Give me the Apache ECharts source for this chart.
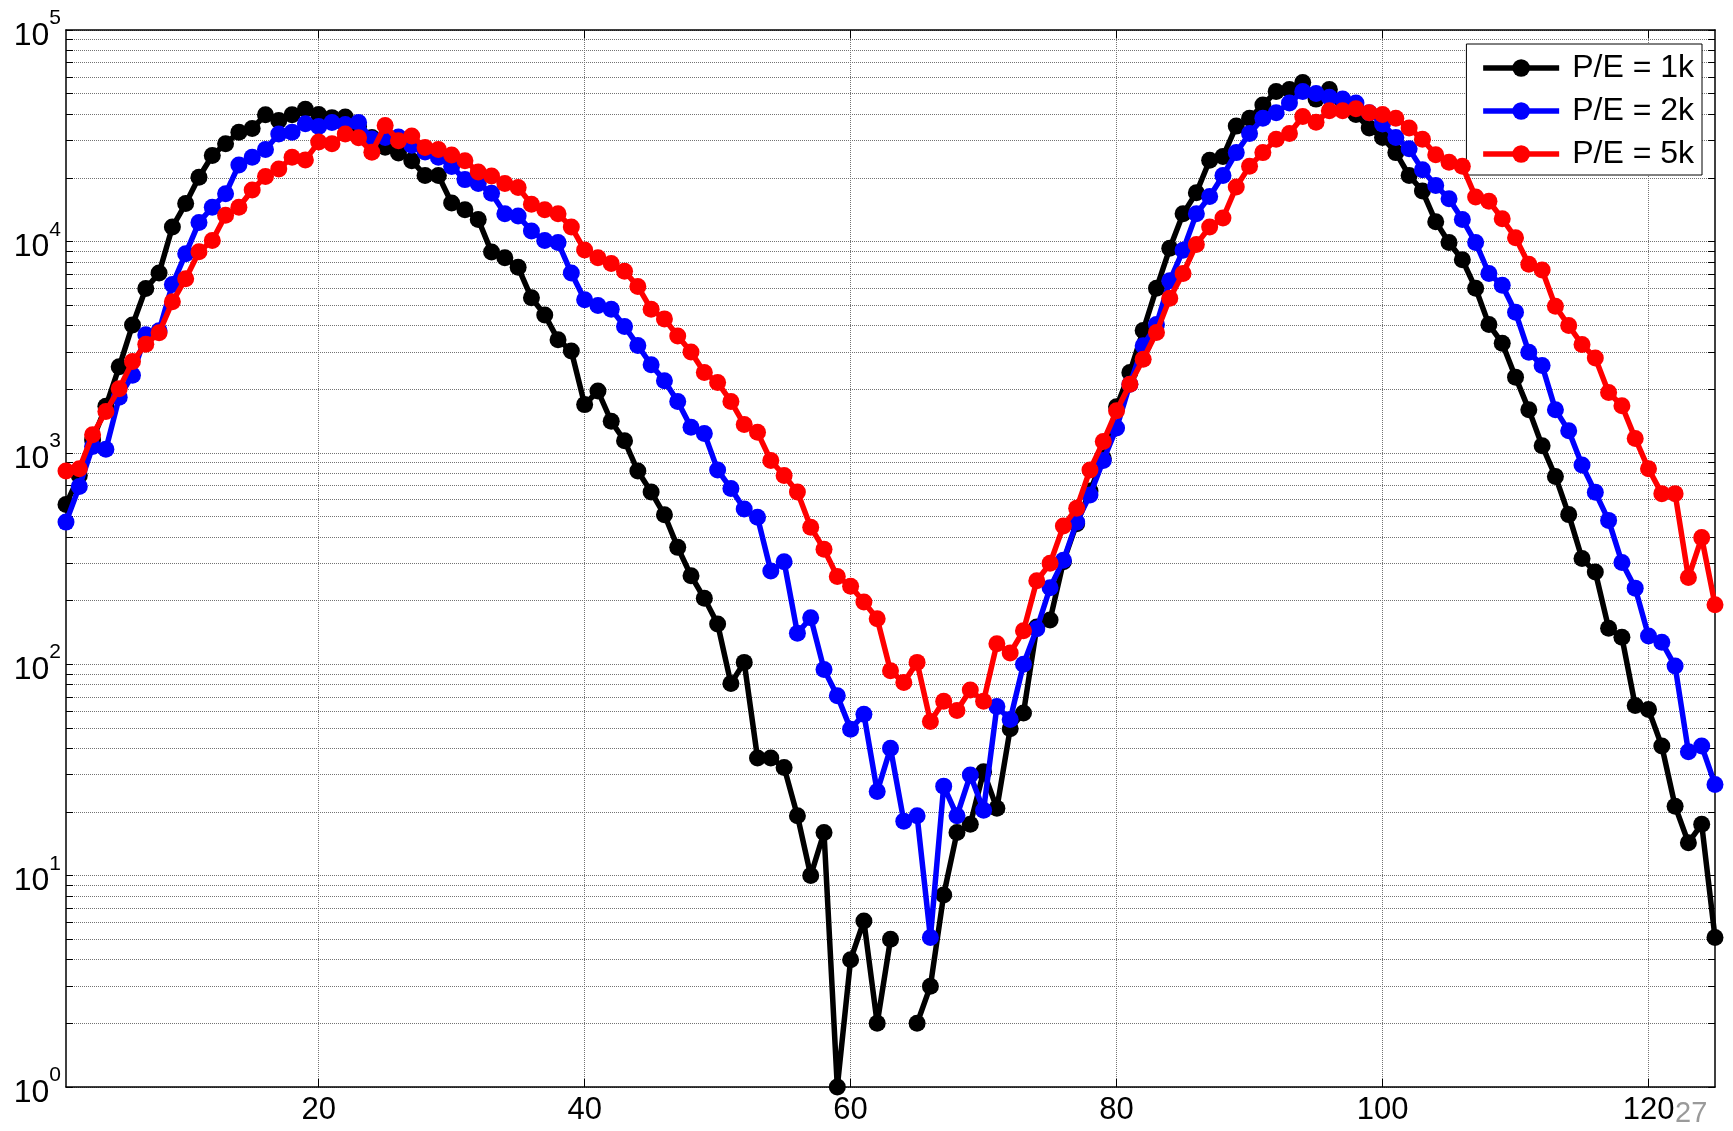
<!DOCTYPE html>
<html>
<head>
<meta charset="utf-8">
<script src="https://cdn.jsdelivr.net/npm/echarts@6/dist/echarts.min.js"></script>
<style>
  html, body { margin: 0; padding: 0; background: #fff; }
  #chart { width: 1733px; height: 1131px; }
</style>
</head>
<body>
<div id="chart"></div>
<script>
// x 轴：页序号 1..125
var pageIndex = [];
for (var i = 1; i <= 125; i++) pageIndex.push(i);

var seriesNames = ['P/E = 1k', 'P/E = 2k', 'P/E = 5k'];

// P/E = 1k （第 64 点为 0，对数轴上不画）
var pe1k = [
  570, 780, 1150, 1660, 2550, 4020, 5990, 7080, 11700, 15100,
  20100, 25500, 29000, 32800, 34200, 39700, 37300, 39700, 42200, 39800,
  38500, 38800, 35000, 31000, 27900, 26200, 24100, 20500, 20500, 15200,
  14100, 12700, 8900, 8370, 7540, 5410, 4490, 3430, 3030, 1690,
  1960, 1410, 1140, 820, 653, 509, 357, 262, 205, 155,
  81, 102, 36, 36, 32.5, 19.2, 10, 16, 1, 4,
  6.1, 2, 5, '-', 2, 3, 8.1, 16, 17.5, 31,
  20.8, 49.5, 58.8, 150, 162, 305, 462, 659, 940, 1650,
  2400, 3790, 6000, 9270, 13500, 17000, 24200, 25200, 35100, 38200,
  44200, 51200, 52300, 56500, 47100, 52300, 46100, 39800, 34400, 31000,
  26300, 20500, 17300, 12400, 9880, 8190, 6000, 4040, 3300, 2280,
  1600, 1080, 773, 510, 316, 273, 148, 134, 63.7, 61,
  41, 21.3, 14.3, 17.5, 5.1
];

// P/E = 2k
var pe2k = [
  470, 693, 1070, 1040, 1830, 2330, 3620, 3780, 6250, 8750,
  12300, 14500, 16800, 23000, 25000, 27200, 32200, 32800, 36000, 35000,
  36500, 35700, 36500, 30500, 31000, 31200, 28500, 26500, 25000, 22600,
  19600, 18800, 16900, 13500, 13200, 11200, 10100, 9880, 7080, 5300,
  4980, 4780, 3960, 3220, 2610, 2190, 1750, 1320, 1235, 830,
  678, 542, 495, 276, 305, 140, 166, 94.5, 71, 49.3,
  58, 25, 40, 18.1, 19.2, 5.1, 26.5, 19.2, 29.9, 20.4,
  63, 54.7, 100, 147, 230, 310, 470, 632, 920, 1310,
  2110, 3210, 4040, 6510, 9080, 13500, 16300, 20500, 26300, 32400,
  38200, 40600, 45100, 51200, 50100, 48100, 47100, 45100, 40600, 35900,
  31000, 27400, 21800, 18400, 15900, 12700, 9880, 7050, 6200, 4620,
  2990, 2590, 1600, 1270, 875, 650, 479, 303, 229, 136,
  127, 98, 38.5, 41, 27
];

// P/E = 5k
var pe5k = [
  820, 840, 1216, 1570, 2010, 2700, 3260, 3700, 5180, 6660,
  8930, 10100, 13300, 14500, 17500, 20300, 22000, 25000, 24300, 29500,
  29000, 32200, 30900, 26400, 35300, 29900, 31500, 27800, 27200, 25600,
  24100, 21300, 20400, 18800, 18000, 15000, 14100, 13500, 11700, 9100,
  8370, 7860, 7230, 6120, 4780, 4300, 3570, 3000, 2400, 2150,
  1750, 1360, 1250, 920, 781, 652, 445, 350, 260, 234,
  197, 164, 93, 82, 102, 53.6, 66.8, 60.4, 75.5, 66.8,
  125, 113, 144, 248, 300, 450, 547, 829, 1130, 1580,
  2110, 2770, 3710, 5390, 7050, 9680, 11700, 12900, 18100, 22700,
  26300, 30400, 32400, 39000, 36600, 41500, 41500, 42400, 40600, 39800,
  38200, 34400, 30400, 25700, 23700, 22700, 16200, 15500, 12800, 10400,
  7790, 7320, 4930, 4000, 3250, 2810, 1930, 1670, 1170, 840,
  641, 641, 257, 397, 191
];

var xTicks = [20, 40, 60, 80, 100, 120];
var yDecades = [1, 10, 100, 1000, 10000, 100000];
// 对数网格线：每个十倍程内 1..9
var yGridTicks = [];
for (var d = 0; d < 5; d++) {
  for (var m = 1; m <= 9; m++) yGridTicks.push(m * yDecades[d]);
}
yGridTicks.push(100000);

var colors = ['#000000', '#0000ff', '#ff0000'];
var seriesValues = [pe1k, pe2k, pe5k];
var FONT = 'Liberation Sans, Arial, sans-serif';

var gridStyle = { color: '#737373', width: 1, type: [1, 1] };

var chart = echarts.init(document.getElementById('chart'), null, { renderer: 'canvas' });

var option = {
  animation: false,
  backgroundColor: '#ffffff',
  grid: { left: 66, right: 18, top: 30, bottom: 44, containLabel: false },
  legend: {
    data: seriesNames,
    orient: 'vertical',
    right: 31,
    top: 44,
    itemWidth: 76,
    itemHeight: 22,
    itemGap: 11,
    padding: [8, 8, 5, 14],
    borderColor: '#000',
    borderWidth: 1,
    backgroundColor: '#fff',
    lineStyle: { width: 5.5 },
    textStyle: { fontSize: 32, fontFamily: FONT, color: '#000', padding: [0, 0, 0, 8] }
  },
  xAxis: [{
    type: 'value',
    min: 1,
    max: 125,
    position: 'bottom',
    axisLine: { show: true, onZero: false, lineStyle: { color: '#000', width: 1.5 } },
    axisTick: { show: true, inside: true, length: 8, customValues: xTicks, lineStyle: { color: '#000' } },
    axisLabel: { customValues: xTicks, fontSize: 31, fontFamily: FONT, color: '#000', margin: 8 },
    splitLine: { show: true, lineStyle: gridStyle }
  }, {
    type: 'value',
    min: 1,
    max: 125,
    position: 'top',
    axisLine: { show: true, onZero: false, lineStyle: { color: '#000', width: 1.5 } },
    axisTick: { show: true, inside: true, length: 8, customValues: xTicks, lineStyle: { color: '#000' } },
    axisLabel: { show: false },
    splitLine: { show: false }
  }],
  yAxis: [{
    type: 'log',
    logBase: 10,
    min: 1,
    max: 100000,
    position: 'left',
    axisLine: { show: true, onZero: false, lineStyle: { color: '#000', width: 1.5 } },
    axisTick: { show: true, inside: true, length: 7, customValues: yGridTicks, lineStyle: { color: '#000' } },
    axisLabel: {
      customValues: yDecades,
      margin: 5,
      formatter: function (v) {
        return '{b|10}{s|' + Math.round(Math.log10(v)) + '}';
      },
      rich: {
        b: { fontSize: 32, fontFamily: FONT, color: '#000', lineHeight: 44, verticalAlign: 'bottom' },
        s: { fontSize: 21, fontFamily: FONT, color: '#000', lineHeight: 24, verticalAlign: 'top' }
      }
    },
    splitLine: { show: true, lineStyle: gridStyle }
  }, {
    type: 'log',
    logBase: 10,
    min: 1,
    max: 100000,
    position: 'right',
    axisLine: { show: true, onZero: false, lineStyle: { color: '#000', width: 1.5 } },
    axisTick: { show: true, inside: true, length: 7, customValues: yGridTicks, lineStyle: { color: '#000' } },
    axisLabel: { show: false },
    splitLine: { show: false }
  }],
  graphic: [{
    type: 'text',
    left: 1675,
    top: 1099,
    style: { text: '27', fill: '#9a9a9a', font: '29px ' + FONT }
  }],
  series: seriesNames.map(function (name, k) {
    return {
      name: name,
      type: 'line',
      xAxisIndex: 0,
      yAxisIndex: 0,
      data: pageIndex.map(function (x, i) { return [x, seriesValues[k][i]]; }),
      symbol: 'circle',
      symbolSize: 17,
      showAllSymbol: true,
      clip: false,
      connectNulls: false,
      lineStyle: { color: colors[k], width: 5.5 },
      itemStyle: { color: colors[k] },
      z: 2 + k
    };
  })
};

chart.setOption(option);
</script>
</body>
</html>
